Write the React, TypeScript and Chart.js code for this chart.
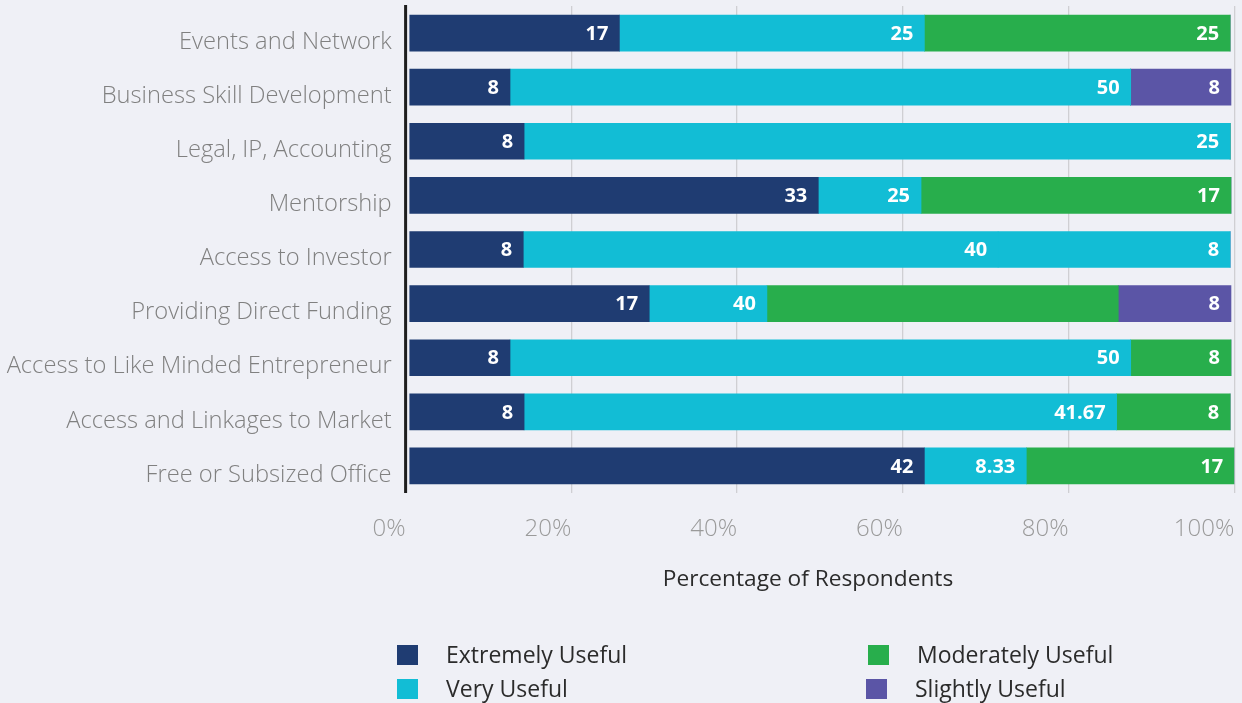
import React, { useEffect, useRef } from 'react';
import { Chart, registerables } from 'chart.js';

Chart.register(...registerables);

// ---------- data ----------
const categories = [
  'Events and Network',
  'Business Skill Development',
  'Legal, IP, Accounting',
  'Mentorship',
  'Access to Investor',
  'Providing Direct Funding',
  'Access to Like Minded Entrepreneur',
  'Access and Linkages to Market',
  'Free or Subsized Office',
];

const seriesNames = ['Extremely Useful', 'Very Useful', 'Moderately Useful', 'Slightly Useful'];

// bar shares (% of respondents)
const extremelyShare = [25.8, 12.6, 14.3, 49.8, 14.2, 29.4, 12.6, 14.3, 62.6];
const veryShare = [36.8, 74.9, 85.2, 12.4, 57.3, 14.2, 74.9, 71.5, 12.3];
const moderatelyShare = [36.9, 0, 0, 37.4, 28.0, 42.4, 12.1, 13.7, 25.1];
const slightlyShare = [0, 12.1, 0, 0, 0, 13.6, 0, 0, 0];

// value labels printed on the bars
const extremelyLabels = ['17', '8', '8', '33', '8', '17', '8', '8', '42'];
const veryLabels = ['25', '50', '25', '25', '40', '40', '50', '41.67', '8.33'];
const moderatelyLabels = ['25', '', '', '17', '8', '', '8', '8', '17'];
const slightlyLabels = ['', '8', '', '', '', '8', '', '', ''];

const xTicks = [0, 20, 40, 60, 80, 100];
const xTitle = 'Percentage of Respondents';

// ---------- style ----------
const BG = '#eff0f6';
const NAVY = '#1f3c72';
const CYAN = '#12bdd5';
const GREEN = '#28ae4c';
const PURPLE = '#5b55a6';
const FONT = '"Open Sans", "Noto Sans", sans-serif';

const labelSets = [extremelyLabels, veryLabels, moderatelyLabels, slightlyLabels];

function zeroPad(s: any) {
  s.paddingTop = 0;
  s.paddingBottom = 0;
  s.paddingLeft = 0;
  s.paddingRight = 0;
}

export default function App() {
  const ref = useRef<HTMLCanvasElement>(null);

  useEffect(() => {
    document.body.style.margin = '0';
    document.body.style.background = BG;
    if (!ref.current) return;

    const valueLabels = {
      id: 'valueLabels',
      afterDatasetsDraw(chart: any) {
        const ctx = chart.ctx;
        ctx.save();
        ctx.font = `bold 20px ${FONT}`;
        ctx.fillStyle = '#ffffff';
        ctx.textAlign = 'right';
        ctx.textBaseline = 'middle';
        chart.data.datasets.forEach((ds: any, i: number) => {
          const meta = chart.getDatasetMeta(i);
          meta.data.forEach((el: any, j: number) => {
            const lab = labelSets[i][j];
            if (!lab) return;
            const { x, y } = el.getProps(['x', 'y'], true);
            ctx.fillText(lab, x - 11, y + 1);
          });
        });
        // vertical category axis line
        const a = chart.chartArea;
        ctx.fillStyle = '#1e1e1e';
        ctx.fillRect(a.left - 1.5, a.top - 1, 3, a.bottom - a.top + 1);
        ctx.restore();
      },
    };

    const legendPlugin = {
      id: 'gridLegend',
      afterDraw(chart: any) {
        const ctx = chart.ctx;
        ctx.save();
        // axis title
        ctx.font = `22.7px ${FONT}`;
        ctx.fillStyle = '#2b2b2b';
        ctx.textAlign = 'center';
        ctx.textBaseline = 'middle';
        ctx.fillText(xTitle, 808, 580);

        const slots = [
          { x: 397, y: 655 },
          { x: 397, y: 689 },
          { x: 868, y: 655 },
          { x: 866, y: 689 },
        ];
        ctx.font = `23px ${FONT}`;
        ctx.textAlign = 'left';
        chart.data.datasets.forEach((ds: any, i: number) => {
          const s = slots[i];
          ctx.fillStyle = ds.legendColor;
          ctx.fillRect(s.x, s.y - 10, 21, 20);
          ctx.fillStyle = '#2b2b2b';
          ctx.fillText(ds.label, s.x + 49, s.y + 1);
        });
        ctx.restore();
      },
    };

    const chart = new Chart(ref.current, {
      type: 'bar',
      data: {
        labels: categories,
        datasets: [
          { label: seriesNames[0], data: extremelyShare, backgroundColor: NAVY, legendColor: NAVY, base: 0.5 } as any,
          { label: seriesNames[1], data: veryShare, backgroundColor: CYAN, legendColor: CYAN } as any,
          {
            label: seriesNames[2],
            data: moderatelyShare,
            // the trailing segment of "Access to Investor" is drawn in the Very Useful colour in the original
            backgroundColor: categories.map((_, i) => (i === 4 ? CYAN : GREEN)),
            legendColor: GREEN,
          } as any,
          { label: seriesNames[3], data: slightlyShare, backgroundColor: PURPLE, legendColor: PURPLE } as any,
        ],
      },
      options: {
        indexAxis: 'y',
        responsive: false,
        animation: false,
        events: [],
        layout: { padding: { left: 0, right: 7.7, top: 6, bottom: 100 } },
        datasets: {
          bar: { barThickness: 36, borderWidth: 0, borderSkipped: false } as any,
        },
        scales: {
          x: {
            stacked: true,
            min: 0,
            max: 100,
            afterBuildTicks: (s: any) => {
              s.ticks = xTicks.map((v) => ({ value: v }));
            },
            afterFit: (s: any) => {
              s.height = 110;
              zeroPad(s);
            },
            ticks: {
              align: 'end',
              padding: 22,
              color: '#9a9a9a',
              font: { family: FONT, size: 24, weight: '300' as any },
              callback: (v: any) => `${v}%`,
            },
            grid: { color: '#cfcfd3', lineWidth: 1.3, drawTicks: false },
            border: { display: false },
            title: { display: false },
          },
          y: {
            stacked: true,
            afterFit: (s: any) => {
              s.width = 405.6;
              zeroPad(s);
            },
            ticks: {
              padding: 14,
              labelOffset: 9,
              color: '#808080',
              font: { family: FONT, size: 23.7, weight: '300' as any },
            },
            grid: { display: false, drawTicks: false },
            border: { display: false },
          },
        },
        plugins: {
          legend: { display: false },
          tooltip: { enabled: false },
        },
      },
      plugins: [valueLabels, legendPlugin],
    });

    return () => chart.destroy();
  }, []);

  return (
    <div style={{ width: 1242, height: 703, background: BG, position: 'relative' }}>
      <canvas ref={ref} width={1242} height={703} style={{ display: 'block' }} />
    </div>
  );
}
